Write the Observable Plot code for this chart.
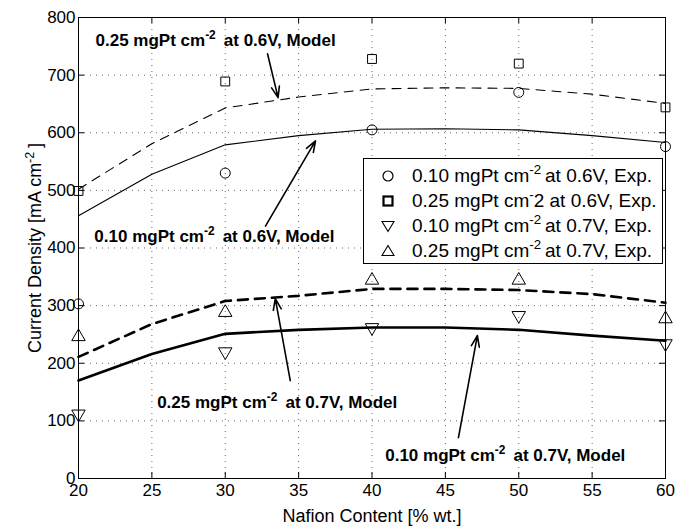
<!DOCTYPE html>
<html>
<head>
<meta charset="utf-8">
<script src="https://cdn.jsdelivr.net/npm/d3@7"></script>
<script src="https://cdn.jsdelivr.net/npm/@observablehq/plot@0.6"></script>
<style>
  body { margin: 0; background: white; }
  #chart { position: relative; width: 675px; height: 526px; font-family: "Liberation Sans", Arial, sans-serif; }
  #legend { position: absolute; left: 363px; top: 158px; width: 300px; height: 106px; border: 1px solid black; background: white; box-sizing: border-box; padding-top: 4px; }
  #legend .row { height: 25px; display: flex; align-items: center; font-size: 19px; white-space: nowrap; }
  #legend .sym { width: 48px; display: flex; justify-content: center; }
  #legend sup { font-size: 0.7em; line-height: 0; vertical-align: 0.6em; margin-right: 4px; }
</style>
</head>
<body>
<div id="chart"></div>
<script>
// ---- data ----
const nafionExp = [20, 30, 40, 50, 60];
const exp010_06 = [303, 530, 605, 670, 576];
const exp025_06 = [499, 689, 728, 720, 644];
const exp010_07 = [112, 220, 262, 283, 234];
const exp025_07 = [246, 288, 344, 344, 277];

const nafionModel = [20, 25, 30, 35, 40, 45, 50, 55, 60];
const model025_06 = [502, 581, 643, 662, 676, 678, 677, 667, 651];
const model010_06 = [456, 528, 579, 595, 606, 607, 605, 595, 583];
const model025_07 = [211, 268, 308, 317, 329, 329, 327, 320, 305];
const model010_07 = [170, 216, 251, 258, 262, 262, 258, 248, 239];

const xTicks = [20, 25, 30, 35, 40, 45, 50, 55, 60];
const yTicks = [0, 100, 200, 300, 400, 500, 600, 700, 800];

const annLabels = [
  "0.25 mgPt cm^-2 at 0.6V, Model",
  "0.10 mgPt cm^-2 at 0.6V, Model",
  "0.25 mgPt cm^-2 at 0.7V, Model",
  "0.10 mgPt cm^-2 at 0.7V, Model"
];
const annX = [21.16, 21.08, 25.36, 40.9];
const annY = [760, 420, 131, 39];
const arrowX1 = [32.88, 32.74, 34.43, 45.89];
const arrowY1 = [737, 438, 170, 71];
const arrowX2 = [33.6, 36.15, 33.41, 47.18];
const arrowY2 = [661, 586, 312, 248];

const legendLabels = [
  "0.10 mgPt cm<sup>-2</sup>at 0.6V, Exp.",
  "0.25 mgPt cm<sup style=\"margin-right:0\">-</sup>2 at 0.6V, Exp.",
  "0.10 mgPt cm<sup>-2</sup>at 0.7V, Exp.",
  "0.25 mgPt cm<sup>-2</sup>at 0.7V, Exp."
];

// ---- build tables ----
const toRows = (xs, ys) => xs.map((x, i) => ({x, y: ys[i]}));
const ann = annLabels.map((t, i) => ({t, x: annX[i], y: annY[i], x1: arrowX1[i], y1: arrowY1[i], x2: arrowX2[i], y2: arrowY2[i]}));

const W = 675, H = 526, mL = 78, mR = 10, mT = 17, mB = 48;
const plotW = W - mL - mR, plotH = H - mT - mB;
const tick = 6;

const dotOpts = {x: "x", y: "y", r: 5, stroke: "black", fill: "none", strokeWidth: 1};

const chart = Plot.plot({
  width: W, height: H,
  marginLeft: mL, marginRight: mR, marginTop: mT, marginBottom: mB,
  style: {fontFamily: "Liberation Sans, Arial, sans-serif", fontSize: "17px", background: "white", color: "black"},
  x: {domain: [20, 60]},
  y: {domain: [0, 800]},
  marks: [
    Plot.gridX(xTicks, {stroke: "black", strokeOpacity: 0.6, strokeDasharray: "1,5"}),
    Plot.gridY(yTicks, {stroke: "black", strokeOpacity: 0.6, strokeDasharray: "1,5"}),
    Plot.tickX(xTicks, {x: d => d, insetTop: plotH - tick, stroke: "black"}),
    Plot.tickX(xTicks, {x: d => d, insetBottom: plotH - tick, stroke: "black"}),
    Plot.tickY(yTicks, {y: d => d, insetRight: plotW - tick, stroke: "black"}),
    Plot.tickY(yTicks, {y: d => d, insetLeft: plotW - tick, stroke: "black"}),
    Plot.axisX({ticks: xTicks, tickSize: 0, tickPadding: 5, label: null, fontSize: 17}),
    Plot.axisY({ticks: yTicks, tickSize: 0, tickPadding: 3, label: null, fontSize: 17}),
    Plot.axisX({ticks: [], tickSize: 0, label: "Nafion Content [% wt.]", labelAnchor: "center", labelOffset: 43, labelArrow: "none", fontSize: 18}),
    Plot.axisY({ticks: [], tickSize: 0, label: "Current Density [mA cm^-2]", labelAnchor: "center", labelOffset: 50, labelArrow: "none", fontSize: 18}),
    Plot.frame({stroke: "black"}),
    Plot.line(toRows(nafionModel, model025_06), {x: "x", y: "y", stroke: "black", strokeWidth: 1.1, strokeDasharray: "9,7"}),
    Plot.line(toRows(nafionModel, model010_06), {x: "x", y: "y", stroke: "black", strokeWidth: 1.1}),
    Plot.line(toRows(nafionModel, model025_07), {x: "x", y: "y", stroke: "black", strokeWidth: 2.6, strokeDasharray: "10,7"}),
    Plot.line(toRows(nafionModel, model010_07), {x: "x", y: "y", stroke: "black", strokeWidth: 2.6}),
    Plot.dot(toRows(nafionExp, exp010_06), {...dotOpts, symbol: "circle"}),
    Plot.dot(toRows(nafionExp, exp025_06), {...dotOpts, symbol: "square"}),
    Plot.dot(toRows(nafionExp, exp010_07), {...dotOpts, symbol: "triangle", rotate: 180}),
    Plot.dot(toRows(nafionExp, exp025_07), {...dotOpts, symbol: "triangle"}),
    Plot.arrow(ann, {x1: "x1", y1: "y1", x2: "x2", y2: "y2", stroke: "black", strokeWidth: 1.6, headLength: 11, headAngle: 40}),
    Plot.text(ann, {x: "x", y: "y", text: "t", textAnchor: "start", fontWeight: "bold", fontSize: 17, fill: "black"})
  ]
});

// superscripts: "^-2" -> raised small text
const NS = "http://www.w3.org/2000/svg";
chart.querySelectorAll("text, tspan").forEach(el => {
  if (el.children.length) return;
  const t = el.textContent;
  const i = t.indexOf("^");
  if (i < 0) return;
  el.textContent = "";
  el.appendChild(document.createTextNode(t.slice(0, i)));
  const s = document.createElementNS(NS, "tspan");
  s.setAttribute("dy", "-0.6em");
  s.setAttribute("font-size", "0.7em");
  s.textContent = t.slice(i + 1, i + 3);
  el.appendChild(s);
  const a = document.createElementNS(NS, "tspan");
  a.setAttribute("dy", "0.42em");
  a.setAttribute("dx", "0.2em");
  a.textContent = t.slice(i + 3);
  el.appendChild(a);
});

const root = document.getElementById("chart");
root.appendChild(chart);

// legend inside the plot area
const legend = document.createElement("div");
legend.id = "legend";
const symPaths = [
  '<circle cx="7" cy="7" r="5" fill="none" stroke="black" stroke-width="1.2"/>',
  '<rect x="2.5" y="2.5" width="9" height="9" fill="none" stroke="black" stroke-width="2.2"/>',
  '<path d="M1,2.5 L13,2.5 L7,12.5 Z" fill="none" stroke="black" stroke-width="1.1"/>',
  '<path d="M1,11.5 L13,11.5 L7,1.5 Z" fill="none" stroke="black" stroke-width="1.1"/>'
];
legendLabels.forEach((lab, i) => {
  const row = document.createElement("div");
  row.className = "row";
  row.innerHTML = `<span class="sym"><svg width="14" height="14">${symPaths[i]}</svg></span><span>${lab}</span>`;
  legend.appendChild(row);
});
root.appendChild(legend);
</script>
</body>
</html>
